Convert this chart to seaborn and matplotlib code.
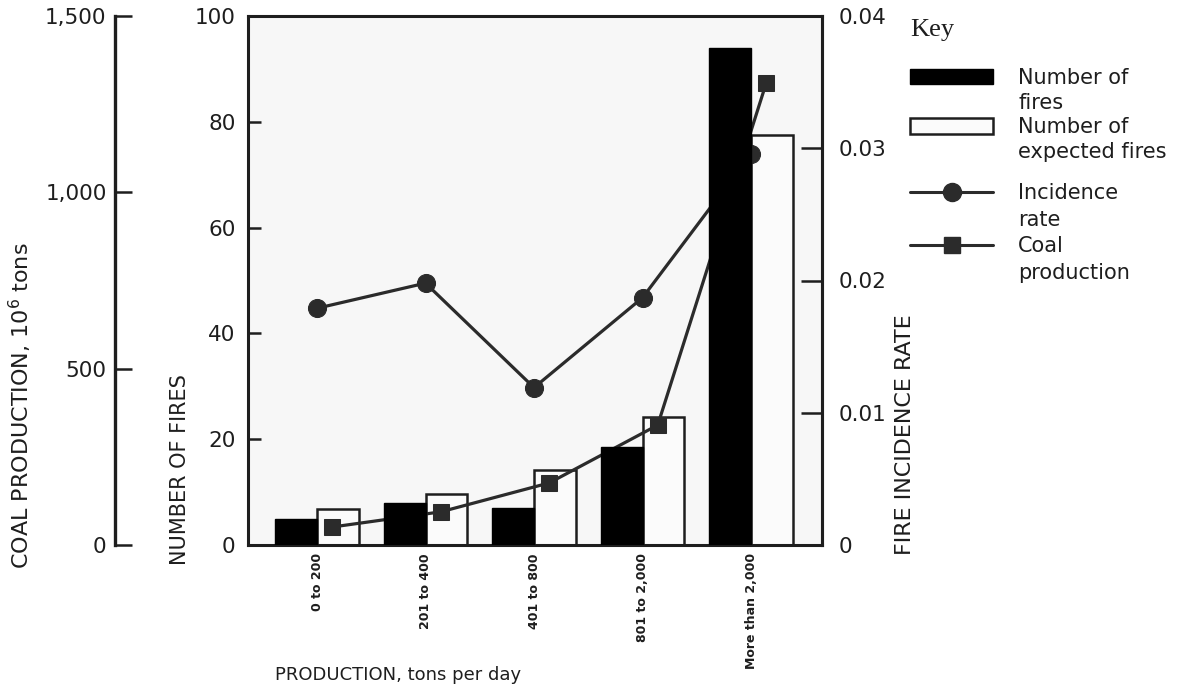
import numpy as np
import pandas as pd
import matplotlib
matplotlib.use("Agg")
import matplotlib.pyplot as plt
import seaborn as sns
from matplotlib.patches import Patch
from matplotlib.lines import Line2D

# ---------------- data ----------------
categories = ["0 to 200", "201 to 400", "401 to 800", "801 to 2,000", "More than 2,000"]
fires = [5, 8, 7, 18.5, 94]
expected_fires = [6.8, 9.7, 14.2, 24.2, 77.5]
incidence_rate = [0.0179, 0.0198, 0.0119, 0.0187, 0.0296]
coal_production = [51, 94, 176, 340, 1310]

fire_ticks = [0, 20, 40, 60, 80, 100]
coal_ticks = [0, 500, 1000, 1500]
coal_tick_labels = ["0", "500", "1,000", "1,500"]
rate_ticks = [0, 0.01, 0.02, 0.03, 0.04]
rate_tick_labels = ["0", "0.01", "0.02", "0.03", "0.04"]

S_F = "Number of fires"
S_E = "Number of expected fires"

# ---------------- style ----------------
sns.set_theme(style="white")
plt.rcParams["font.family"] = ["DejaVu Sans"]
INK = "#1e1e1e"

W, H = 1186, 691
fig = plt.figure(figsize=(W / 100, H / 100), dpi=100)
fig.patch.set_facecolor("white")
ax = fig.add_axes([248 / W, 146 / H, 574 / W, 529 / H])
ax.set_facecolor("#f7f7f7")

ax_rate = ax.twinx()
ax_coal = ax.twinx()
ax_black = ax.twinx()

df_exp = pd.DataFrame({"cat": categories, "val": expected_fires, "series": S_E})
df_fire = pd.DataFrame({"cat": categories, "val": fires, "series": S_F})
hue_order = [S_F, S_E]
pal = {S_F: "black", S_E: "#fbfbfb"}

sns.barplot(data=df_exp, x="cat", y="val", hue="series", hue_order=hue_order,
            order=categories, palette=pal, saturation=1, width=0.77, dodge=True,
            edgecolor=INK, linewidth=1.8, errorbar=None, legend=False, ax=ax)
sns.barplot(data=df_fire, x="cat", y="val", hue="series", hue_order=hue_order,
            order=categories, palette=pal, saturation=1, width=0.77, dodge=True,
            edgecolor="black", linewidth=1.0, errorbar=None, legend=False, ax=ax_black)

x_pos = np.arange(len(categories))
sns.lineplot(x=x_pos, y=incidence_rate, marker="o", markersize=13, color="#2b2b2b",
             markeredgecolor="#2b2b2b", linewidth=2.3, ax=ax_rate)
sns.lineplot(x=x_pos + 0.14, y=coal_production, marker="s", markersize=12, color="#2b2b2b",
             markeredgecolor="#2b2b2b", linewidth=2.3, ax=ax_coal)

# ---------------- axes ----------------
ax.set_xlim(-0.636, 4.654)
ax.set_ylim(0, 100)
ax_black.set_ylim(0, 100)
ax_rate.set_ylim(0, 0.04)
ax_coal.set_ylim(0, 1500)

for a in (ax, ax_rate, ax_coal, ax_black):
    a.set_xlabel("")
    a.set_ylabel("")
    a.grid(False)

for s in ax.spines.values():
    s.set_visible(True)
    s.set_linewidth(2.2)
    s.set_color(INK)

for a in (ax_rate, ax_coal, ax_black):
    for s in a.spines.values():
        s.set_visible(False)

ax_black.yaxis.set_visible(False)

ax.set_yticks(fire_ticks)
ax.set_yticklabels([str(t) for t in fire_ticks])
ax.tick_params(axis="y", which="both", left=True, right=False, direction="in", length=9,
               width=1.8, color=INK, labelsize=15.5, pad=9, labelcolor=INK)
ax.set_xticks(x_pos)
ax.set_xticklabels(categories, rotation=90, fontweight="bold", fontsize=9, color=INK)
ax.tick_params(axis="x", length=0, pad=6)

ax_rate.spines["right"].set_visible(True)
ax_rate.spines["right"].set_linewidth(2.2)
ax_rate.spines["right"].set_color(INK)
ax_rate.set_yticks(rate_ticks)
ax_rate.set_yticklabels(rate_tick_labels)
ax_rate.tick_params(axis="y", right=True, left=False, direction="in", length=15,
                    width=1.8, color=INK, labelsize=15.5, pad=12, labelcolor=INK)

ax_coal.yaxis.tick_left()
ax_coal.spines["left"].set_visible(True)
ax_coal.spines["left"].set_position(("axes", (115 - 248) / 574))
ax_coal.spines["left"].set_linewidth(2.4)
ax_coal.spines["left"].set_color(INK)
ax_coal.set_yticks(coal_ticks)
ax_coal.set_yticklabels(coal_tick_labels)
ax_coal.tick_params(axis="y", left=True, right=False, direction="in", length=12,
                    width=1.8, color=INK, labelsize=15.5, pad=6, labelcolor=INK)

# ---------------- axis titles ----------------
fig.text(20 / W, 1 - 406 / H, "COAL PRODUCTION, 10$^6$ tons", rotation=90,
         ha="center", va="center", fontsize=16, color=INK)
fig.text(180 / W, 1 - 470 / H, "NUMBER OF FIRES", rotation=90,
         ha="center", va="center", fontsize=15, color=INK)
fig.text(905 / W, 1 - 435 / H, "FIRE INCIDENCE RATE", rotation=90,
         ha="center", va="center", fontsize=16, color=INK)
fig.text(275 / W, 1 - 675 / H, "PRODUCTION, tons per day",
         ha="left", va="center", fontsize=13, color=INK)

# ---------------- key ----------------
fig.text(910 / W, 1 - 30 / H, "Key", ha="left", va="center", fontsize=19,
         family="Liberation Serif", color=INK)

blank = Line2D([], [], linestyle="none")
handles_a = [Patch(facecolor="black", edgecolor="black"), blank,
             Patch(facecolor="#fbfbfb", edgecolor=INK, linewidth=1.8), blank]
labels_a = ["Number of", "fires", "Number of", "expected fires"]
handles_b = [Line2D([], [], color="#2b2b2b", linewidth=2.2, marker="o", markersize=13), blank,
             Line2D([], [], color="#2b2b2b", linewidth=2.2, marker="s", markersize=12), blank]
labels_b = ["Incidence", "rate", "Coal", "production"]

common = dict(loc="upper left", frameon=False, fontsize=15, handlelength=4.0,
              handleheight=0.75, handletextpad=1.2, borderpad=0, borderaxespad=0,
              labelcolor=INK)
leg_a = fig.legend(handles_a, labels_a, bbox_to_anchor=(910 / W, 1 - 68 / H),
                   labelspacing=0.22, **common)
leg_b = fig.legend(handles_b, labels_b, bbox_to_anchor=(910 / W, 1 - 183 / H),
                   labelspacing=0.32, **common)

fig.savefig("out.png", dpi=100, facecolor="white")
